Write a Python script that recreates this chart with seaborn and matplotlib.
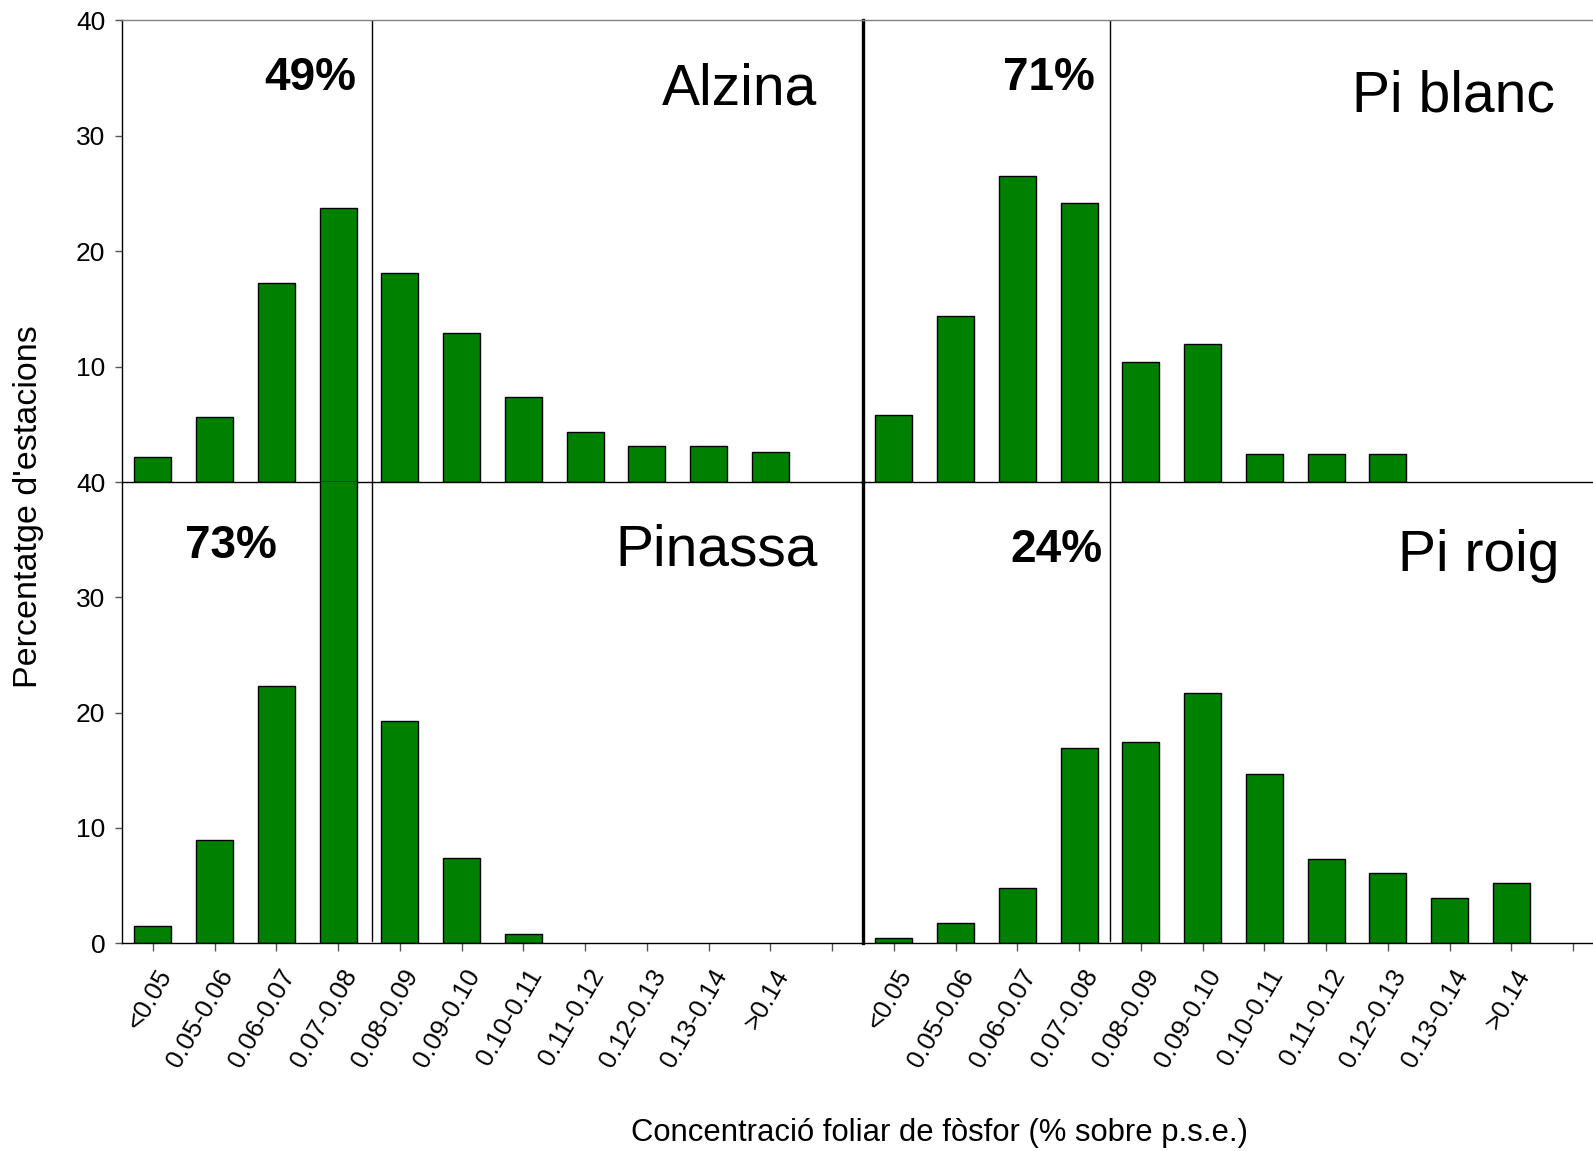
import matplotlib
matplotlib.use('Agg')
import matplotlib.pyplot as plt
import matplotlib.transforms as mtransforms
import pandas as pd
import seaborn as sns

# phosphorus concentration classes (last slot on each axis is left empty)
CATEGORIES = ['<0.05', '0.05-0.06', '0.06-0.07', '0.07-0.08', '0.08-0.09', '0.09-0.10',
              '0.10-0.11', '0.11-0.12', '0.12-0.13', '0.13-0.14', '>0.14']

ALZINA = [2.2, 5.6, 17.2, 23.7, 18.1, 12.9, 7.4, 4.3, 3.1, 3.1, 2.6]
PI_BLANC = [5.8, 14.4, 26.5, 24.2, 10.4, 12.0, 2.4, 2.4, 2.4, 0.0, 0.0]
PINASSA = [1.5, 8.9, 22.3, 40.3, 19.3, 7.4, 0.8, 0.0, 0.0, 0.0, 0.0]
PI_ROIG = [0.4, 1.7, 4.8, 16.9, 17.4, 21.7, 14.7, 7.3, 6.1, 3.9, 5.2]

SPECIES = ['Alzina', 'Pi blanc', 'Pinassa', 'Pi roig']
PCT_LABELS = ['49%', '71%', '73%', '24%']

sns.set_theme(style='white')
plt.rcParams['font.family'] = ['Liberation Sans', 'DejaVu Sans']
plt.rcParams.update({'text.color': 'black', 'axes.labelcolor': 'black',
                     'xtick.color': 'black', 'ytick.color': 'black'})

fig = plt.figure(figsize=(15.93, 11.51), dpi=100)

L1, L2, W = 0.0766, 0.5417, 0.4652
B_BOT, H_BOT = 0.1807, 0.4005
B_TOP, H_TOP = 0.5812, 0.4012

ax_tl = fig.add_axes([L1, B_TOP, W, H_TOP])
ax_tr = fig.add_axes([L2, B_TOP, W, H_TOP])
ax_bl = fig.add_axes([L1, B_BOT, W, H_BOT])
ax_br = fig.add_axes([L2, B_BOT, W, H_BOT])

panels = [
    (ax_tl, ALZINA, 'top', 'left'),
    (ax_tr, PI_BLANC, 'top', 'right'),
    (ax_bl, PINASSA, 'bottom', 'left'),
    (ax_br, PI_ROIG, 'bottom', 'right'),
]

# text anchors in data coords: (pct x, pct baseline, name right x, name baseline)
text_pos = [(2.54, 34.0, 10.76, 32.7), (2.51, 34.0, 10.7, 32.1),
            (1.27, 33.4, 10.76, 32.8), (2.63, 33.1, 10.78, 32.3)]

for i, (ax, vals, row, col) in enumerate(panels):
    ax.set_facecolor('none')
    df = pd.DataFrame({'classe': CATEGORIES, 'pct': vals})
    sns.barplot(data=df, x='classe', y='pct', order=CATEGORIES, ax=ax,
                color='#008000', saturation=1, width=0.6,
                edgecolor='black', linewidth=1.0)
    # empty classes: no visible bar outline on the axis
    for p in ax.patches:
        if p.get_height() == 0:
            p.set_visible(False)
    ax.set_xlim(-0.5, 11.5)
    ax.set_ylim(0, 40)
    ax.set_xlabel('')
    ax.set_ylabel('')
    ax.grid(False)

    # threshold line between 0.07-0.08 and 0.08-0.09
    x_line = 3.54 if col == 'left' else 3.5
    ymin = 0.0 if row == 'top' else 0.005
    ax.axvline(x_line, ymin=ymin, ymax=1, color='black', lw=1.0)

    px, py, nx, ny = text_pos[i]
    ax.text(px, py, PCT_LABELS[i], ha='center', va='baseline',
            fontsize=33, fontweight='bold')
    ax.text(nx, ny, SPECIES[i], ha='right', va='baseline', fontsize=41)

    for s in ax.spines.values():
        s.set_color('black')
        s.set_linewidth(1.0)
        s.set_zorder(5)

    ax.spines['top'].set_visible(row == 'top')
    ax.spines['top'].set_color('#808080')
    ax.spines['left'].set_visible(col == 'left')
    if col == 'left':
        ax.spines['right'].set_linewidth(2.4)
    else:
        ax.spines['right'].set_visible(False)

    if col == 'left':
        ax.set_yticks([10, 20, 30, 40] if row == 'top' else [0, 10, 20, 30, 40])
        ax.tick_params(axis='y', left=True, length=5, width=1, color='#555555',
                       labelsize=19, pad=7, direction='out')
    else:
        ax.set_yticks([])

    if row == 'bottom':
        ax.set_xticks(range(12))
        ax.set_xticklabels(CATEGORIES + [''], rotation=60, ha='right', va='center',
                           rotation_mode='anchor')
        ax.tick_params(axis='x', bottom=True, length=6, width=1, color='#555555',
                       labelsize=18.5, pad=14, direction='out')
        shift = mtransforms.ScaledTranslation(13 / 100, 0, fig.dpi_scale_trans)
        for lab in ax.get_xticklabels():
            lab.set_transform(lab.get_transform() + shift)
    else:
        ax.set_xticks([])

fig.text(0.0179, 0.56, "Percentatge d'estacions", rotation=90,
         ha='center', va='center', fontsize=24.5)
fig.text(0.590, 0.016, 'Concentració foliar de fòsfor (% sobre p.s.e.)',
         ha='center', va='center', fontsize=22.3)

fig.savefig('out.png', dpi=100)
